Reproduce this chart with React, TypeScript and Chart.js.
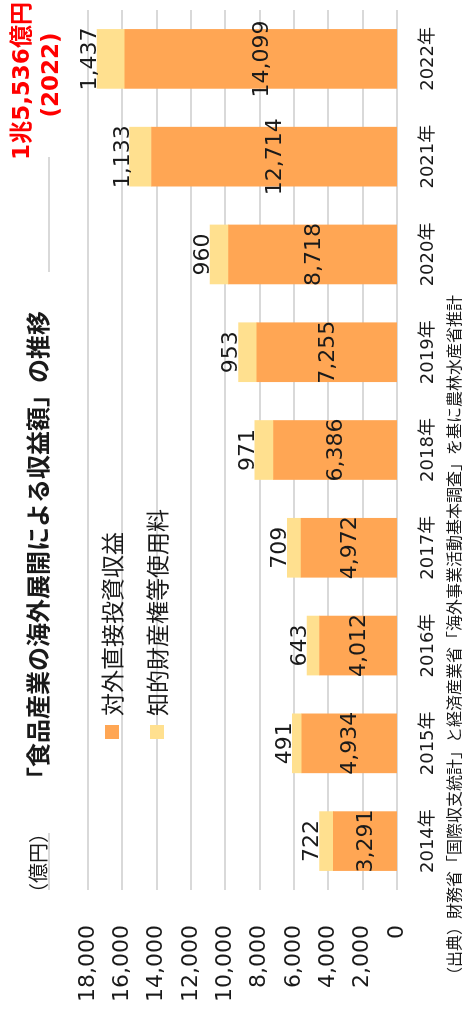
import React, { useEffect, useRef } from "react";
import { Chart, registerables } from "chart.js";

Chart.register(...registerables);

// ---- data ----
const years = ["2014年", "2015年", "2016年", "2017年", "2018年", "2019年", "2020年", "2021年", "2022年"];
const directInvestment = [3291, 4934, 4012, 4972, 6386, 7255, 8718, 12714, 14099];
const ipFees = [722, 491, 643, 709, 971, 953, 960, 1133, 1437];
const seriesNames = ["対外直接投資収益", "知的財産権等使用料"];
const axisMin = 0;
const axisMax = 18000;
const axisStep = 2000;
const barAxisMax = 16000; // bars in the reference are drawn on their own 0–16,000 scale
const titleText = "「食品産業の海外展開による収益額」の推移";
const unitText = "（億円）";
const totalLine1 = "1兆5,536億円";
const totalLine2 = "(2022)";
const sourceText = "（出典）財務省「国際収支統計」と経済産業省「海外事業活動基本調査」を基に農林水産省推計";

const ORANGE = "#FFA654";
const YELLOW = "#FFE08F";
const GRID = "#D9D9D9";
const TEXT = "#1a1a1a";
const FONT = "'Noto Sans CJK JP', 'Noto Sans', sans-serif";
const NUMFONT = "'DejaVu Sans', 'Noto Sans CJK JP', sans-serif";

const W = 1013;
const H = 462;

const fmt = (v: number) => v.toLocaleString("en-US");

const decorPlugin = {
  id: "decor",
  afterDatasetsDraw(chart: any) {
    const ctx = chart.ctx as CanvasRenderingContext2D;
    ctx.save();
    ctx.fillStyle = TEXT;
    ctx.font = `22px ${NUMFONT}`;
    ctx.textAlign = "center";
    const m0 = chart.getDatasetMeta(0);
    const m1 = chart.getDatasetMeta(1);
    m0.data.forEach((el: any, i: number) => {
      const p = el.getProps(["x", "y", "base"], true);
      ctx.textBaseline = "middle";
      ctx.fillText(fmt(directInvestment[i]), p.x, (p.y + p.base) / 2 + 1);
    });
    m1.data.forEach((el: any, i: number) => {
      const p = el.getProps(["x", "y"], true);
      ctx.textBaseline = "alphabetic";
      ctx.fillText(fmt(ipFees[i]), p.x, p.y - 1);
    });
    ctx.restore();
  },
  afterDraw(chart: any) {
    const ctx = chart.ctx as CanvasRenderingContext2D;
    ctx.save();
    // decorative grey rules
    ctx.strokeStyle = GRID;
    ctx.lineWidth = 2;
    ctx.beginPath();
    ctx.moveTo(123, 49);
    ctx.lineTo(180, 49);
    ctx.moveTo(741, 49);
    ctx.lineTo(856, 49);
    ctx.stroke();

    // title
    ctx.fillStyle = TEXT;
    ctx.textBaseline = "middle";
    ctx.textAlign = "center";
    ctx.font = `bold 24px ${FONT}`;
    ctx.fillText(titleText, 462, 38);

    // unit
    ctx.font = `20px ${FONT}`;
    ctx.fillText(unitText, 150, 38);

    // legend
    const ds = chart.data.datasets;
    const rows = [112, 157];
    ds.forEach((d: any, i: number) => {
      ctx.fillStyle = d.backgroundColor;
      ctx.fillRect(274, rows[i] - 7, 14, 14);
      ctx.fillStyle = TEXT;
      ctx.textAlign = "left";
      ctx.font = `23px ${FONT}`;
      ctx.fillText(d.label, 297, rows[i]);
    });

    // total annotation
    ctx.fillStyle = "#FF0000";
    ctx.textAlign = "center";
    ctx.font = `bold 23px ${NUMFONT}`;
    ctx.fillText(totalLine1, 932, 23);
    ctx.fillText(totalLine2, 938, 52);

    // source
    ctx.fillStyle = TEXT;
    ctx.textAlign = "left";
    ctx.font = `16px ${FONT}`;
    ctx.fillText(sourceText, 30, 454);
    ctx.restore();
  },
};

export default function App() {
  const ref = useRef<HTMLCanvasElement | null>(null);

  useEffect(() => {
    if (!ref.current) return;
    const chart = new Chart(ref.current, {
      type: "bar",
      data: {
        labels: years,
        datasets: [
          {
            label: seriesNames[0],
            data: directInvestment,
            backgroundColor: ORANGE,
            borderWidth: 0,
            yAxisID: "yb",
            barThickness: 59,
          },
          {
            label: seriesNames[1],
            data: ipFees,
            backgroundColor: YELLOW,
            borderWidth: 0,
            yAxisID: "yb",
            barThickness: 59,
          },
        ],
      },
      options: {
        responsive: false,
        animation: false,
        events: [],
        layout: { padding: { top: 88, right: 10, left: 0, bottom: 0 } },
        plugins: {
          legend: { display: false },
          tooltip: { enabled: false },
        },
        scales: {
          x: {
            stacked: true,
            grid: { display: false, drawTicks: false },
            border: { display: false },
            ticks: {
              color: TEXT,
              font: { family: NUMFONT, size: 18 },
              padding: 21,
              maxRotation: 0,
            },
            afterFit: (s: any) => {
              s.height = 65;
            },
          },
          y: {
            position: "left",
            min: axisMin,
            max: axisMax,
            grid: { color: GRID, lineWidth: 2, drawTicks: false },
            border: { display: false },
            ticks: {
              stepSize: axisStep,
              color: TEXT,
              padding: 35,
              font: { family: NUMFONT, size: 22 },
              callback: (v: any) => fmt(Number(v)),
            },
            afterFit: (s: any) => {
              s.width = 123;
            },
          },
          yb: {
            display: false,
            stacked: true,
            min: 0,
            max: barAxisMax,
          },
        },
      },
      plugins: [decorPlugin],
    });
    return () => chart.destroy();
  }, []);

  return (
    <div
      style={{
        position: "fixed",
        left: 0,
        top: 0,
        width: H,
        height: W,
        overflow: "hidden",
        background: "#fff",
      }}
    >
      <div
        style={{
          position: "absolute",
          left: 0,
          top: 0,
          width: W,
          height: H,
          transformOrigin: "0 0",
          transform: `translate(0px, ${W}px) rotate(-90deg)`,
        }}
      >
        <canvas ref={ref} width={W} height={H} style={{ width: W, height: H, display: "block" }} />
      </div>
    </div>
  );
}
